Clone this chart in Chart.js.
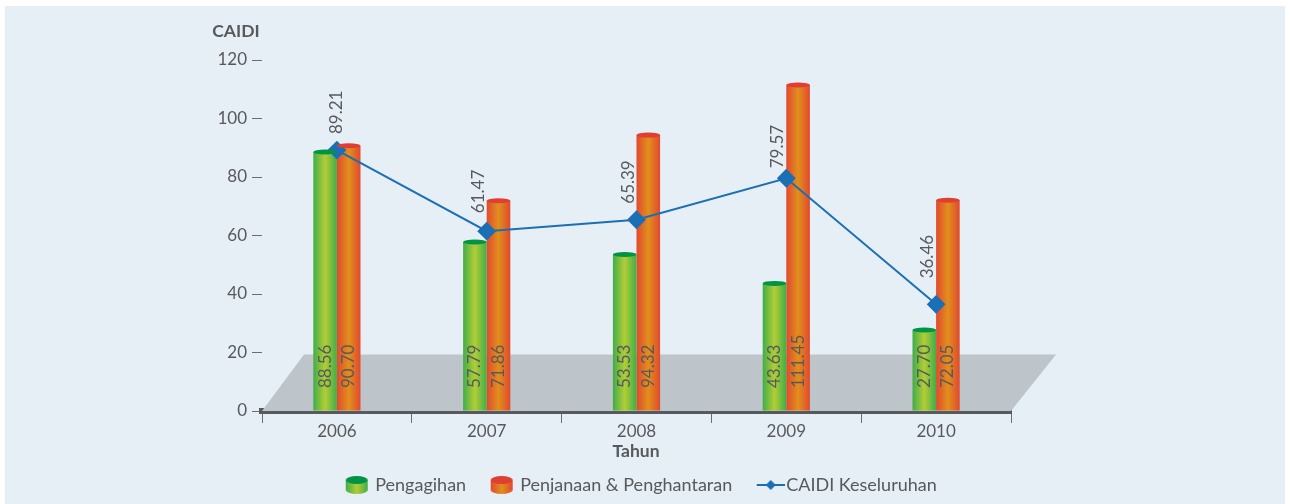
<!DOCTYPE html>
<html>
<head>
<meta charset="utf-8">
<title>CAIDI</title>
<script src="https://cdn.jsdelivr.net/npm/chart.js@4"></script>
<style>
  html, body { margin: 0; padding: 0; background: #fff; }
  .chart-section { position: absolute; left: 5px; top: 6px; width: 1280px; height: 498px; background: #e6eff5; }
  canvas { display: block; }
</style>
</head>
<body>
<div class="chart-section"><canvas id="caidiChart" width="1280" height="498"></canvas></div>
<script>
const years = ["2006", "2007", "2008", "2009", "2010"];
const pengagihan = [88.56, 57.79, 53.53, 43.63, 27.7];
const penjanaan = [90.7, 71.86, 94.32, 111.45, 72.05];
const keseluruhan = [89.21, 61.47, 65.39, 79.57, 36.46];
const yTicks = [0, 20, 40, 60, 80, 100, 120];

const textColor = "#58595b";
const font = "Lato";
const barShare = 0.315;

const barColors = {
  green: { edge: "#3fae49", mid: "#b3cd35", cap: "#009444" },
  red: { edge: "#e2482f", mid: "#e0901c", cap: "#e03d33" },
};

function barGradient(ctx, x1, x2, c) {
  const g = ctx.createLinearGradient(x1, 0, x2, 0);
  g.addColorStop(0, c.edge);
  g.addColorStop(0.5, c.mid);
  g.addColorStop(1, c.edge);
  return g;
}

// fill for one bar, worked out from the category scale (side -1 left bar, 1 right bar)
function barFill(c, colors, side) {
  const x = c.chart.scales.x;
  if (!x || c.dataIndex === undefined) return colors.edge;
  const mid = x.getPixelForValue(c.dataIndex);
  const w = (x.width / years.length) * barShare / 2;
  return barGradient(c.chart.ctx, Math.min(mid, mid + side * w), Math.max(mid, mid + side * w), colors);
}

// the legend cylinders and the line+diamond are drawn to small canvases
function cylinderIcon(c) {
  const cv = document.createElement("canvas");
  cv.width = 24;
  cv.height = 20;
  const x = cv.getContext("2d");
  x.fillStyle = barGradient(x, 1, 23, c);
  x.beginPath();
  x.ellipse(12, 15, 11, 4, 0, 0, Math.PI);
  x.lineTo(1, 5);
  x.lineTo(23, 5);
  x.closePath();
  x.fill();
  x.fillStyle = c.cap;
  x.beginPath();
  x.ellipse(12, 5, 11, 4, 0, 0, Math.PI * 2);
  x.fill();
  return cv;
}

function lineIcon() {
  const cv = document.createElement("canvas");
  cv.width = 34;
  cv.height = 14;
  const x = cv.getContext("2d");
  x.strokeStyle = "#1b6fb5";
  x.lineWidth = 2;
  x.beginPath();
  x.moveTo(6, 7);
  x.lineTo(34, 7);
  x.stroke();
  x.fillStyle = "#1b6fb5";
  x.beginPath();
  x.moveTo(20, 2);
  x.lineTo(25, 7);
  x.lineTo(20, 12);
  x.lineTo(15, 7);
  x.fill();
  return cv;
}

const icons = [cylinderIcon(barColors.green), cylinderIcon(barColors.red), lineIcon()];

const floorPlugin = {
  id: "floor",
  beforeDatasetsDraw(chart) {
    const { ctx, scales } = chart;
    const y0 = scales.y.getPixelForValue(0);
    const top = scales.y.getPixelForValue(20) + 2;
    const left = scales.x.left;
    const right = scales.x.right;
    ctx.save();
    ctx.fillStyle = "#bdc4ca";
    ctx.beginPath();
    ctx.moveTo(left, y0);
    ctx.lineTo(left + 42, top);
    ctx.lineTo(right + 45, top);
    ctx.lineTo(right, y0);
    ctx.closePath();
    ctx.fill();
    ctx.restore();
  },
};

function vText(ctx, text, x, y) {
  ctx.save();
  ctx.translate(x, y);
  ctx.rotate(-Math.PI / 2);
  ctx.fillText(text, 0, 0);
  ctx.restore();
}

// how far each line label sits from its marker
const lineLabelLeft = [0, 8, 8, 9, 9];
const lineLabelLift = [16, 18, 16, 10, 26];

const cylinderPlugin = {
  id: "cylinder",
  afterDatasetsDraw(chart) {
    const { ctx, scales } = chart;
    const y0 = scales.y.getPixelForValue(0);
    ctx.save();
    // caps
    [0, 1].forEach((d) => {
      const cap = d === 0 ? barColors.green.cap : barColors.red.cap;
      chart.getDatasetMeta(d).data.forEach((bar) => {
        ctx.fillStyle = cap;
        ctx.beginPath();
        ctx.ellipse(bar.x, bar.y, bar.width / 2, 2.5, 0, 0, Math.PI * 2);
        ctx.fill();
      });
    });
    // value labels
    ctx.fillStyle = textColor;
    ctx.font = "17px " + font;
    ctx.textBaseline = "middle";
    ctx.textAlign = "left";
    [pengagihan, penjanaan].forEach((vals, d) => {
      chart.getDatasetMeta(d).data.forEach((bar, i) => {
        vText(ctx, vals[i].toFixed(2), bar.x, y0 - 23);
      });
    });
    chart.getDatasetMeta(2).data.forEach((pt, i) => {
      vText(ctx, keseluruhan[i].toFixed(2), pt.x - lineLabelLeft[i], pt.y - lineLabelLift[i]);
    });
    // axis titles
    ctx.font = "bold 17.5px " + font;
    ctx.textAlign = "center";
    ctx.fillText("CAIDI", scales.y.right - 26, 25);
    ctx.fillText("Tahun", (scales.x.left + scales.x.right) / 2 - 0.5, 445);
    ctx.restore();
  },
};

new Chart(document.querySelector("#caidiChart"), {
  type: "bar",
  plugins: [floorPlugin, cylinderPlugin],
  data: {
    labels: years,
    datasets: [
      {
        label: "Pengagihan",
        data: pengagihan,
        order: 2,
        backgroundColor: (c) => barFill(c, barColors.green, -1),
      },
      {
        label: "Penjanaan & Penghantaran",
        data: penjanaan,
        order: 3,
        backgroundColor: (c) => barFill(c, barColors.red, 1),
      },
      {
        type: "line",
        label: "CAIDI Keseluruhan",
        data: keseluruhan,
        order: 1,
        borderColor: "#1b6fb5",
        borderWidth: 2,
        backgroundColor: "#1b6fb5",
        pointStyle: "rectRot",
        pointRadius: 8,
        pointHoverRadius: 8,
        tension: 0,
      },
    ],
  },
  options: {
    responsive: false,
    animation: false,
    layout: { padding: { left: 0, right: 6, top: 54, bottom: 0 } },
    datasets: { bar: { categoryPercentage: barShare, barPercentage: 1 } },
    scales: {
      x: {
        grid: { drawOnChartArea: false, tickLength: 12, color: "#6d6e71", tickWidth: 1 },
        // the upper half is hidden under the floor and bars
        border: { display: true, color: "#58595b", width: 6 },
        ticks: { color: textColor, font: { family: font, size: 17 }, padding: -2 },
        afterFit: (s) => { s.height = 39; },
      },
      y: {
        min: 0,
        max: 120,
        afterBuildTicks: (s) => { s.ticks = yTicks.map((v) => ({ value: v })); },
        grid: { drawOnChartArea: false, tickLength: 10, color: "#6d6e71", tickWidth: 1 },
        border: { display: false },
        ticks: { color: textColor, font: { family: font, size: 17 }, padding: 5 },
        afterFit: (s) => { s.width = 257; },
      },
      // empty axis, only holds the space right of the plot so the legend stays centred on the page
      yRight: {
        type: "linear",
        position: "right",
        display: true,
        grid: { display: false },
        border: { display: false },
        ticks: { display: false },
        afterFit: (s) => { s.width = 268; },
      },
    },
    plugins: {
      tooltip: { enabled: false },
      legend: {
        position: "bottom",
        labels: {
          color: textColor,
          font: { family: font, size: 18 },
          usePointStyle: true,
          pointStyleWidth: 19,
          padding: 26,
          generateLabels: (chart) =>
            chart.data.datasets.map((d, i) => ({
              text: d.label,
              fontColor: textColor,
              pointStyle: icons[i],
              lineWidth: 0,
              strokeStyle: "transparent",
              fillStyle: "transparent",
              datasetIndex: i,
            })),
        },
      },
    },
  },
});
</script>
</body>
</html>
